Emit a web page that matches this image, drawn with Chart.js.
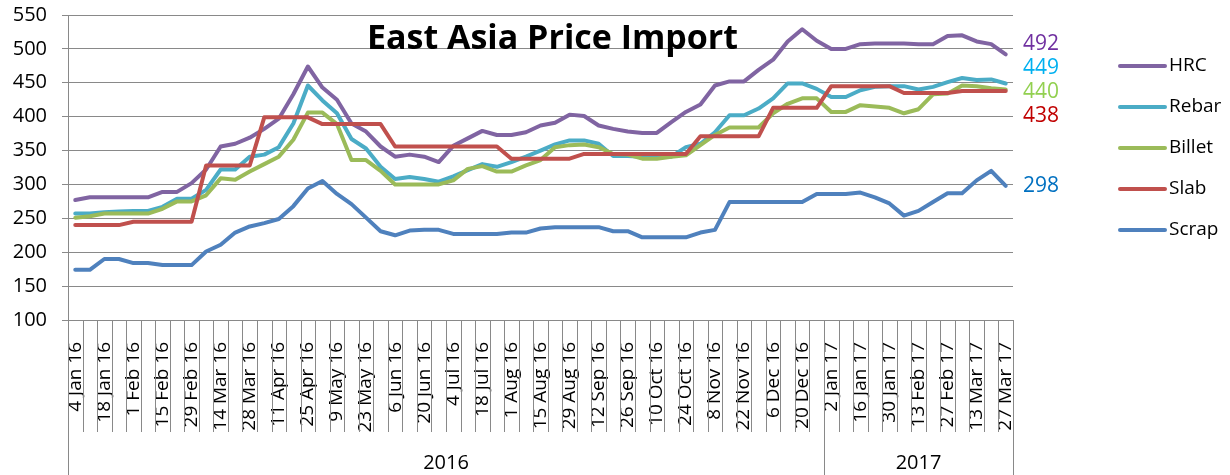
<!DOCTYPE html>
<html>
<head>
<meta charset="utf-8">
<script src="https://cdn.jsdelivr.net/npm/chart.js@4.4.1/dist/chart.umd.min.js"></script>
<style>
  html, body { margin: 0; padding: 0; background: #fff; }
  #cadre { width: 1230px; height: 475px; position: relative; }
</style>
</head>
<body>
<div id="cadre"><canvas id="prixChart"></canvas></div>
<script>
// Libellés affichés (une semaine sur deux)
const weekLabels = ['4 Jan 16', '18 Jan 16', '1 Feb 16', '15 Feb 16', '29 Feb 16', '14 Mar 16', '28 Mar 16',
    '11 Apr 16', '25 Apr 16', '9 May 16', '23 May 16', '6 Jun 16', '20 Jun 16', '4 Jul 16', '18 Jul 16',
    '1 Aug 16', '15 Aug 16', '29 Aug 16', '12 Sep 16', '26 Sep 16', '10 Oct 16', '24 Oct 16', '8 Nov 16',
    '22 Nov 16', '6 Dec 16', '20 Dec 16', '2 Jan 17', '16 Jan 17', '30 Jan 17', '13 Feb 17', '27 Feb 17',
    '13 Mar 17', '27 Mar 17'];

const years = ['2016', '2017'];
const yearStart = [0, 52]; // indice de la première semaine de chaque année

const hrc = [277, 281, 281, 281, 281, 281, 289, 289, 302, 322,
    356, 360, 369, 382, 397, 433, 474, 443, 425, 390,
    378, 356, 341, 344, 341, 333, 357, 368, 379, 373,
    373, 377, 387, 391, 403, 401, 387, 382, 378, 376,
    376, 392, 407, 418, 446, 452, 452, 469, 484, 511,
    529, 512, 500, 500, 507, 508, 508, 508, 507, 507,
    519, 520, 511, 507, 492];

const rebar = [257, 257, 259, 260, 261, 261, 267, 279, 279, 292,
    322, 322, 341, 344, 355, 390, 446, 424, 405, 367,
    353, 326, 308, 311, 308, 304, 312, 321, 330, 326,
    333, 341, 350, 359, 365, 365, 360, 342, 342, 341,
    341, 341, 355, 360, 377, 402, 402, 412, 427, 449,
    449, 441, 429, 429, 439, 444, 445, 445, 440, 444,
    451, 457, 454, 455, 449];

const billet = [251, 253, 257, 257, 257, 257, 264, 275, 275, 284,
    309, 307, 319, 330, 341, 366, 406, 406, 389, 336,
    336, 320, 300, 300, 300, 300, 306, 323, 327, 319,
    319, 328, 336, 355, 358, 359, 355, 345, 344, 338,
    338, 341, 343, 358, 373, 384, 384, 384, 405, 419,
    427, 427, 407, 407, 417, 415, 413, 405, 411, 433,
    434, 446, 445, 442, 440];

const slab = [240, 240, 240, 240, 245, 245, 245, 245, 245, 328,
    328, 328, 328, 399, 399, 399, 399, 389, 389, 389,
    389, 389, 356, 356, 356, 356, 356, 356, 356, 356,
    338, 338, 338, 338, 338, 345, 345, 345, 345, 345,
    345, 345, 345, 371, 371, 371, 371, 371, 413, 413,
    413, 413, 445, 445, 445, 445, 445, 435, 435, 435,
    435, 438, 438, 438, 438];

const scrap = [174, 174, 190, 190, 184, 184, 181, 181, 181, 201,
    211, 229, 238, 243, 249, 268, 294, 305, 286, 271,
    251, 231, 225, 232, 233, 233, 227, 227, 227, 227,
    229, 229, 235, 237, 237, 237, 237, 231, 231, 222,
    222, 222, 222, 229, 233, 274, 274, 274, 274, 274,
    274, 286, 286, 286, 288, 281, 272, 254, 261, 274,
    287, 287, 306, 320, 298];

// Une catégorie par semaine, seules les semaines paires portent un libellé
const categories = weekLabels.flatMap((l, i) => i < weekLabels.length - 1 ? [l, ''] : [l]);

const grille = '#898989';
const police = '"Open Sans", "Noto Sans", sans-serif';

// Décor : titre, légende, valeurs finales, séparateurs et années
const habillage = {
    id: 'habillage',
    afterDraw(chart) {
        const ctx = chart.ctx;
        const ca = chart.chartArea;
        const x = chart.scales.x;
        const y = chart.scales.y;
        const n = chart.data.labels.length;
        const pas = x.getPixelForValue(1) - x.getPixelForValue(0);
        const x0 = x.getPixelForValue(0) - pas / 2;

        ctx.save();
        ctx.strokeStyle = grille;
        ctx.lineWidth = 1;

        // séparateurs des catégories
        for (let i = 0; i <= n; i++) {
            const px = Math.round(x0 + i * pas) + 0.5;
            const long = i === 0 || i === n || yearStart.includes(i);
            ctx.beginPath();
            ctx.moveTo(px, ca.bottom);
            ctx.lineTo(px, long ? chart.height : ca.bottom + 112);
            ctx.stroke();
        }

        // années
        ctx.fillStyle = '#000';
        ctx.font = '20px ' + police;
        ctx.textAlign = 'center';
        ctx.textBaseline = 'middle';
        years.forEach((an, k) => {
            const debut = x0 + yearStart[k] * pas;
            const fin = k + 1 < years.length ? x0 + yearStart[k + 1] * pas : x0 + n * pas;
            ctx.fillText(an, (debut + fin) / 2, ca.bottom + 143);
        });

        // titre
        ctx.font = 'bold 34px ' + police;
        ctx.textBaseline = 'alphabetic';
        ctx.fillText('East Asia Price Import', (ca.left + ca.right) / 2 + 12, ca.top + 34);

        // valeurs finales, écartées si elles se chevauchent
        const ecart = 24;
        let groupes = chart.data.datasets.map(ds => {
            const v = ds.data[ds.data.length - 1];
            return { membres: [{ ds: ds, v: v, y: y.getPixelForValue(v) }] };
        }).sort((a, b) => a.membres[0].y - b.membres[0].y);

        const placer = g => {
            const m = g.membres.reduce((s, e) => s + e.y, 0) / g.membres.length;
            g.haut = m - (g.membres.length - 1) * ecart / 2;
            g.bas = g.haut + (g.membres.length - 1) * ecart;
        };
        groupes.forEach(placer);
        let fusion = true;
        while (fusion) {
            fusion = false;
            for (let i = 0; i < groupes.length - 1; i++) {
                if (groupes[i + 1].haut - groupes[i].bas < ecart) {
                    groupes[i].membres = groupes[i].membres.concat(groupes[i + 1].membres);
                    groupes.splice(i + 1, 1);
                    placer(groupes[i]);
                    fusion = true;
                    break;
                }
            }
        }
        ctx.font = '21px ' + police;
        ctx.textAlign = 'left';
        ctx.textBaseline = 'middle';
        groupes.forEach(g => {
            g.membres.forEach((e, k) => {
                ctx.fillStyle = e.ds.couleurValeur;
                ctx.fillText(String(e.v), ca.right + 10, g.haut + k * ecart);
            });
        });

        // légende
        ctx.font = '19px ' + police;
        chart.data.datasets.forEach((ds, k) => {
            const ly = ca.top + 51 + k * 41;
            ctx.strokeStyle = ds.borderColor;
            ctx.lineWidth = 4;
            ctx.lineCap = 'round';
            ctx.beginPath();
            ctx.moveTo(ca.right + 107, ly);
            ctx.lineTo(ca.right + 152, ly);
            ctx.stroke();
            ctx.fillStyle = '#000';
            ctx.fillText(ds.label, ca.right + 156, ly);
        });
        ctx.restore();
    }
};

function serie(label, data, couleur, couleurValeur, ordre) {
    return {
        label: label,
        data: data,
        borderColor: couleur,
        backgroundColor: couleur,
        couleurValeur: couleurValeur,
        borderWidth: 4,
        pointRadius: 0,
        tension: 0,
        borderJoinStyle: 'round',
        borderCapStyle: 'round',
        order: ordre,
        fill: false
    };
}

const ctx = document.getElementById('prixChart').getContext('2d');
new Chart(ctx, {
    type: 'line',
    data: {
        labels: categories,
        datasets: [
            serie('HRC', hrc, '#8064A2', '#7030A0', 5),
            serie('Rebar', rebar, '#4BACC6', '#00B0F0', 4),
            serie('Billet', billet, '#9BBB59', '#92D050', 3),
            serie('Slab', slab, '#C0504D', '#C00000', 2),
            serie('Scrap', scrap, '#4F81BD', '#0070C0', 1)
        ]
    },
    options: {
        responsive: true,
        maintainAspectRatio: false,
        animation: false,
        layout: { padding: { top: 15, right: 217, left: 0, bottom: 0 } },
        plugins: {
            legend: { display: false },
            title: { display: false },
            tooltip: { enabled: false }
        },
        scales: {
            x: {
                type: 'category',
                offset: true,
                grid: { display: false },
                border: { display: false },
                ticks: {
                    autoSkip: false,
                    minRotation: 90,
                    maxRotation: 90,
                    padding: 14,
                    color: '#000',
                    font: { family: police, size: 19 }
                },
                afterFit: s => { s.height = 155; }
            },
            y: {
                min: 100,
                max: 550,
                grid: { color: grille, lineWidth: 1, tickLength: 6 },
                border: { display: true, color: grille, width: 1 },
                ticks: {
                    stepSize: 50,
                    padding: 15,
                    color: '#000',
                    font: { family: police, size: 20 }
                },
                afterFit: s => {
                    s.width = 68;
                    s.paddingTop = 0;
                    s.paddingBottom = 0;
                }
            }
        }
    },
    plugins: [habillage]
});
</script>
</body>
</html>
